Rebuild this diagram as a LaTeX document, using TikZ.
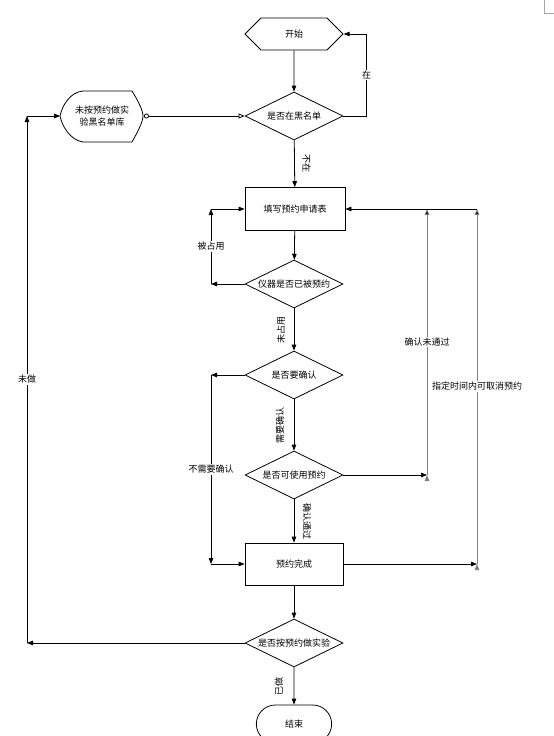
\documentclass[tikz,border=0pt]{standalone}
\usepackage{fontspec}
\setmainfont{Noto Sans CJK SC}
\usetikzlibrary{shapes.geometric,shapes.misc,shapes.symbols,arrows.meta}

\begin{document}
\begin{tikzpicture}[x=1pt,y=-1pt,line width=0.8pt,
    font=\fontsize{9}{12}\selectfont,
    arr/.style={-{Triangle[length=6pt,width=4.5pt]}},
    box/.style={shape=rectangle,draw=black,minimum width=100pt,minimum height=43pt},
    ask/.style={shape=diamond,draw=black,aspect=2,inner sep=0pt,minimum width=98pt,minimum height=48pt},
    lbl/.style={fill=white,inner sep=1pt},
    side/.style={draw=black!50}]

        \useasboundingbox (0,0) rectangle (554,736);
        \clip (0,0) rectangle (554,736);

        \node[shape=signal,signal to=west and east,signal pointer angle=90,draw=black,minimum width=98pt,minimum height=32pt] (a) at (294,34) {开始};
        \node[ask] (b) at (294,116) {是否在黑名单};
        \node[shape=rectangle,minimum width=83pt,minimum height=51pt,align=center] (c) at (102,116) {未按预约做实\\验黑名单库};
        \node[box] (d) at (295,209) {填写预约申请表};
        \node[ask] (e) at (294,284) {仪器是否已被预约};
        \node[ask] (f) at (294,375) {是否要确认};
        \node[ask] (g) at (294,475) {是否可使用预约};
        \node[box,minimum width=98pt,minimum height=42pt] (h) at (294,564) {预约完成};
        \node[ask] (i) at (294,643) {是否按预约做实验};
        \node[shape=rounded rectangle,draw=black,minimum width=82pt,minimum height=38pt] (j) at (294,724) {结束};

        % outline of the blacklist store
        \draw (83,91) -- (132,91) .. controls (137,99) and (143,110) .. (143,116)
            .. controls (143,122) and (137,133) .. (132,142) -- (83,142)
            .. controls (70,140) and (62,126) .. (60,116)
            .. controls (62,106) and (70,92) .. (83,91) -- cycle;

        \coordinate (e1) at (211,284);
        \coordinate (e2) at (211,209);
        \coordinate (f1) at (211,375);
        \coordinate (f2) at (211,564);
        \coordinate (g1) at (427,475);
        \coordinate (g2) at (427,209);
        \coordinate (h1) at (477,564);
        \coordinate (h2) at (477,209);
        \coordinate (i1) at (27,643);
        \coordinate (i2) at (27,116);

        \path[arr] (a) edge (b);
        \draw[arr] (b.east) -| node[lbl,pos=0.75] {在} ([xshift=23pt]a.east) -- (a.east);
        \draw[{Circle[open,length=5pt]}-{Triangle[open,length=6pt,width=5pt]}] (c.east) -- (b.west);
        \path[arr] (b) edge node[midway,xshift=12pt,rotate=-90] {不在} (d);

        \path[arr] (d) edge (e);
        \path[arr] (e.west) edge (e1);
        \path[arr] (e1) edge node[lbl] {被占用} (e2);
        \path[arr] (e2) edge (d.west);
        \path[arr] (e) edge node[midway,xshift=-13pt,rotate=90] {未占用} (f);

        \path[arr] (f.west) edge (f1);
        \path[arr] (f1) edge node[lbl] {不需要确认} (f2);
        \path[arr] (f2) edge (h.west);
        \path[arr] (f) edge node[midway,xshift=-14pt,rotate=90] {需要确认} (g);

        \path[arr] (g.east) edge (g1);
        \path[arr,side] (g1) edge node[lbl] {确认未通过} (g2);
        \path[arr] (g) edge node[midway,xshift=13pt,rotate=-90] {确认通过} (h);

        \path[arr] (h.east) edge (h1);
        \path[arr,side] (h1) edge node[lbl] {指定时间内可取消预约} (h2);
        \path[arr] (h2) edge (d.east);
        \path[arr] (h) edge (i);

        \path[arr] (i.west) edge (i1);
        \path[arr] (i1) edge node[lbl] {未做} (i2);
        \path[arr] (i2) edge (c.west);
        \path[arr] (i) edge node[midway,xshift=-15pt,rotate=90] {已做} (j);

        \draw[black!35,line width=0.6pt] (544,0) -- (544,13) -- (554,13);

    \end{tikzpicture}
\end{document}
